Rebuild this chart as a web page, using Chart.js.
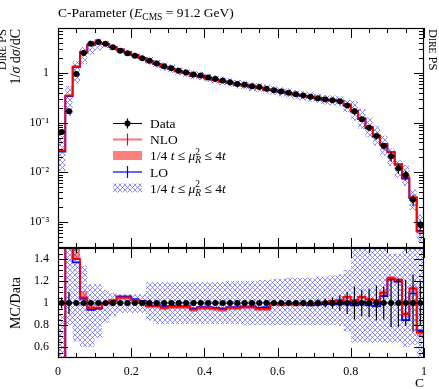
<!DOCTYPE html>
<html>
<head>
<meta charset="UTF-8">
<script src="https://cdn.jsdelivr.net/npm/chart.js"></script>
<title>C-Parameter</title>
<style>
  body { margin: 0; background: #fff; }
  #wrap { position: relative; width: 439px; height: 389px; background: #fff; }
  #wrap canvas { position: absolute; left: 0; top: 0; }
</style>
</head>
<body>
<div id="wrap">
  <canvas id="main" width="439" height="389"></canvas>
  <canvas id="ratio" width="439" height="389"></canvas>
</div>
<script>
// bins of C, width 0.02
const binEdges = [0, 0.02, 0.04, 0.06, 0.08, 0.1, 0.12, 0.14, 0.16, 0.18,
  0.2, 0.22, 0.24, 0.26, 0.28, 0.3, 0.32, 0.34, 0.36, 0.38,
  0.4, 0.42, 0.44, 0.46, 0.48, 0.5, 0.52, 0.54, 0.56, 0.58,
  0.6, 0.62, 0.64, 0.66, 0.68, 0.7, 0.72, 0.74, 0.76, 0.78,
  0.8, 0.82, 0.84, 0.86, 0.88, 0.9, 0.92, 0.94, 0.96, 0.98, 1];

// 1/sigma dsigma/dC, data
const dataVals = [0.065, 0.17, 0.95, 2.5, 3.85, 4.2, 3.85, 3.27, 2.8, 2.47,
  2.22, 1.97, 1.75, 1.54, 1.36, 1.24, 1.11, 1.02, 0.93, 0.885,
  0.81, 0.75, 0.70, 0.65, 0.60, 0.58, 0.54, 0.52, 0.48, 0.45,
  0.42, 0.40, 0.37, 0.35, 0.33, 0.31, 0.29, 0.28, 0.27, 0.22,
  0.17, 0.117, 0.079, 0.054, 0.034, 0.021, 0.012, 0.0088, 0.0028, 0.00088];

// relative data uncertainty
const dataErr = [0.05, 0.10, 0.02, 0.015, 0.015, 0.015, 0.015, 0.015, 0.015, 0.015,
  0.015, 0.015, 0.015, 0.015, 0.015, 0.015, 0.015, 0.015, 0.015, 0.015,
  0.015, 0.015, 0.015, 0.015, 0.015, 0.015, 0.015, 0.015, 0.015, 0.02,
  0.02, 0.02, 0.025, 0.03, 0.03, 0.035, 0.04, 0.05, 0.07, 0.10,
  0.15, 0.12, 0.13, 0.16, 0.15, 0.22, 0.22, 0.21, 0.26, 0.20];

// MC / Data
const nloRatio = [0.42, 2.06, 1.40, 1.05, 0.957, 0.957, 1.0, 1.025, 1.05, 1.05,
  1.028, 1.012, 0.972, 0.972, 0.957, 0.965, 0.965, 0.965, 0.94, 0.957,
  0.957, 0.95, 0.94, 0.957, 0.957, 0.963, 0.963, 0.947, 0.947, 0.994,
  0.988, 0.994, 0.988, 0.994, 0.994, 1.0, 1.006, 1.019, 1.025, 1.056,
  1.025, 1.056, 1.034, 1.025, 1.093, 1.226, 1.21, 0.90, 1.133, 0.73];

const loRatio = [0.40, 2.0, 1.369, 1.04, 0.938, 0.95, 1.0, 1.02, 1.059, 1.059,
  1.034, 1.019, 0.978, 0.978, 0.972, 0.972, 0.972, 0.972, 0.95, 0.963,
  0.963, 0.957, 0.95, 0.963, 0.963, 0.969, 0.969, 0.957, 0.963, 0.994,
  0.988, 0.994, 0.988, 0.988, 0.978, 0.985, 0.99, 0.994, 0.988, 1.009,
  0.978, 1.009, 0.978, 0.969, 1.062, 1.215, 1.195, 0.845, 1.087, 0.75];

// NLO scale band, offsets below / above the NLO ratio
const nloDn = [0.02, 0.05, 0.01, 0.02, 0.02, 0.02, 0.02, 0.02, 0.02, 0.02,
  0.02, 0.02, 0.02, 0.02, 0.02, 0.02, 0.02, 0.02, 0.02, 0.02,
  0.02, 0.02, 0.02, 0.02, 0.02, 0.02, 0.02, 0.02, 0.02, 0.02,
  0.02, 0.02, 0.02, 0.02, 0.02, 0.02, 0.02, 0.02, 0.02, 0.02,
  0.02, 0.02, 0.02, 0.02, 0.03, 0.03, 0.03, 0.03, 0.03, 0.03];
const nloUp = [0.02, 0.10, 0.12, 0.06, 0.02, 0.01, 0.01, 0.01, 0.01, 0.01,
  0.01, 0.01, 0.01, 0.01, 0.01, 0.01, 0.01, 0.01, 0.01, 0.01,
  0.01, 0.01, 0.01, 0.01, 0.01, 0.01, 0.01, 0.01, 0.01, 0.01,
  0.01, 0.01, 0.01, 0.01, 0.01, 0.01, 0.01, 0.01, 0.01, 0.01,
  0.01, 0.01, 0.01, 0.01, 0.02, 0.02, 0.02, 0.02, 0.02, 0.02];

// LO scale band, as ratio to data
const loBandDn = [0.16, 0.80, 0.65, 0.60, 0.60, 0.68, 0.82, 0.88, 0.91, 0.91,
  0.91, 0.91, 0.84, 0.81, 0.81, 0.81, 0.81, 0.81, 0.81, 0.81,
  0.81, 0.81, 0.81, 0.81, 0.81, 0.80, 0.80, 0.80, 0.80, 0.80,
  0.80, 0.80, 0.80, 0.80, 0.80, 0.80, 0.80, 0.80, 0.79, 0.74,
  0.64, 0.64, 0.64, 0.64, 0.64, 0.64, 0.64, 0.60, 0.62, 0.45];
const loBandUp = [0.90, 3.20, 1.80, 1.34, 1.17, 1.17, 1.12, 1.09, 1.08, 1.08,
  1.08, 1.08, 1.19, 1.19, 1.19, 1.19, 1.19, 1.19, 1.19, 1.19,
  1.19, 1.19, 1.19, 1.20, 1.20, 1.20, 1.20, 1.21, 1.21, 1.22,
  1.22, 1.23, 1.23, 1.23, 1.23, 1.24, 1.24, 1.25, 1.26, 1.30,
  1.60, 1.60, 1.60, 1.60, 1.60, 1.45, 1.45, 1.60, 1.60, 1.60];

const xTicks = [0, 0.2, 0.4, 0.6, 0.8, 1];
const xTickLabels = ['0', '0.2', '0.4', '0.6', '0.8', '1'];
const xMinorTicks = [0.05, 0.1, 0.15, 0.25, 0.3, 0.35, 0.45, 0.5, 0.55, 0.65, 0.7, 0.75, 0.85, 0.9, 0.95];
const logTicks = [1e-3, 1e-2, 1e-1, 1];
const logTickLabels = ['10\u207B\u00B3', '10\u207B\u00B2', '10\u207B\u00B9', '1'];
const ratioTicks = [0.6, 0.8, 1, 1.2, 1.4];
const ratioTickLabels = ['0.6', '0.8', '1', '1.2', '1.4'];
const ratioMinorTicks = [0.55, 0.65, 0.7, 0.75, 0.85, 0.9, 0.95, 1.05, 1.1, 1.15, 1.25, 1.3, 1.35, 1.45];

const logMinorTicks = [];
for (let e = -4; e <= 0; e++) {
  for (let k = 2; k <= 9; k++) logMinorTicks.push(k * Math.pow(10, e));
}

const FAMILY = '"Liberation Serif", "DejaVu Serif", serif';
function font(size, style) { return (style ? style + ' ' : '') + size + 'px ' + FAMILY; }

const centres = dataVals.map((v, i) => (binEdges[i] + binEdges[i + 1]) / 2);

function hatch(ctx) {
  const c = document.createElement('canvas');
  c.width = 5; c.height = 5;
  const g = c.getContext('2d');
  g.strokeStyle = 'rgba(100,100,255,0.72)';
  g.lineWidth = 1;
  g.beginPath();
  g.moveTo(0, 0); g.lineTo(5, 5);
  g.moveTo(5, 0); g.lineTo(0, 5);
  g.stroke();
  return ctx.createPattern(c, 'repeat');
}

function steps(vals) {
  const pts = vals.map((v, i) => ({ x: binEdges[i], y: v }));
  pts.push({ x: binEdges[binEdges.length - 1], y: vals[vals.length - 1] });
  return pts;
}

function histDatasets(conv, pattern) {
  const flat = { pointRadius: 0, stepped: true, fill: false };
  return [
    { label: 'Data', data: centres.map((x, i) => ({ x: x, y: conv(i, 1) })),
      showLine: false, pointRadius: 3, pointBackgroundColor: '#000', pointBorderWidth: 0 },
    Object.assign({ label: 'NLO', data: steps(nloRatio.map((r, i) => conv(i, r))),
      borderColor: '#ff0000', borderWidth: 1.8 }, flat),
    Object.assign({ label: 'LO', data: steps(loRatio.map((r, i) => conv(i, r))),
      borderColor: '#0000ff', borderWidth: 1.8 }, flat),
    Object.assign({ label: 'nloDn', data: steps(nloRatio.map((r, i) => conv(i, r - nloDn[i]))),
      borderWidth: 0, borderColor: 'transparent' }, flat),
    Object.assign({}, flat, { label: 'nloUp', data: steps(nloRatio.map((r, i) => conv(i, r + nloUp[i]))),
      borderWidth: 0, borderColor: 'transparent', fill: '-1', backgroundColor: 'rgba(255,0,0,0.45)' }),
    Object.assign({ label: 'loDn', data: steps(loBandDn.map((r, i) => conv(i, r))),
      borderWidth: 0, borderColor: 'transparent' }, flat),
    Object.assign({}, flat, { label: 'loUp', data: steps(loBandUp.map((r, i) => conv(i, r))),
      borderWidth: 0, borderColor: 'transparent', fill: '-1', backgroundColor: pattern })
  ];
}

function errorBars(conv) {
  return {
    id: 'errorBars',
    afterDatasetsDraw(chart) {
      const { ctx, chartArea: a, scales } = chart;
      const x = scales.x, y = scales.y;
      ctx.save();
      ctx.beginPath();
      ctx.rect(a.left, a.top, a.right - a.left, a.bottom - a.top);
      ctx.clip();
      ctx.strokeStyle = '#000';
      ctx.lineWidth = 1.2;
      ctx.beginPath();
      dataVals.forEach((v, i) => {
        const yc = y.getPixelForValue(conv(i, 1));
        ctx.moveTo(x.getPixelForValue(binEdges[i]), yc);
        ctx.lineTo(x.getPixelForValue(binEdges[i + 1]), yc);
        const xc = x.getPixelForValue(centres[i]);
        ctx.moveTo(xc, y.getPixelForValue(conv(i, 1 - dataErr[i])));
        ctx.lineTo(xc, y.getPixelForValue(conv(i, 1 + dataErr[i])));
      });
      ctx.stroke();
      ctx.restore();
    }
  };
}

function frameTicks(yMajor, yMinor) {
  return {
    id: 'frameTicks',
    afterDraw(chart) {
      const { ctx, chartArea: a, scales } = chart;
      const x = scales.x, y = scales.y;
      ctx.save();
      ctx.strokeStyle = '#000';
      ctx.lineWidth = 1;
      ctx.beginPath();
      const xt = (v, len) => {
        const p = Math.round(x.getPixelForValue(v)) + 0.5;
        ctx.moveTo(p, a.top); ctx.lineTo(p, a.top + len);
        ctx.moveTo(p, a.bottom); ctx.lineTo(p, a.bottom - len);
      };
      const yt = (v, len) => {
        const p = Math.round(y.getPixelForValue(v)) + 0.5;
        if (p < a.top || p > a.bottom) return;
        ctx.moveTo(a.left, p); ctx.lineTo(a.left + len, p);
        ctx.moveTo(a.right, p); ctx.lineTo(a.right - len, p);
      };
      xMinorTicks.forEach(v => xt(v, 5));
      xTicks.forEach(v => xt(v, 10));
      yMinor.forEach(v => yt(v, 5));
      yMajor.forEach(v => yt(v, 10));
      ctx.stroke();
      ctx.lineWidth = 1.2;
      ctx.strokeRect(a.left + 0.5, a.top + 0.5, a.right - a.left - 1, a.bottom - a.top - 1);
      ctx.restore();
    }
  };
}

// draws a run of text pieces: {t, f, dy, stay}
function rich(ctx, x, y, segs, align) {
  let w = 0;
  segs.forEach(s => { if (!s.stay) { ctx.font = s.f; w += ctx.measureText(s.t).width; } });
  let cx = align === 'right' ? x - w : (align === 'center' ? x - w / 2 : x);
  segs.forEach(s => {
    ctx.font = s.f;
    ctx.fillText(s.t, cx, y + (s.dy || 0));
    if (!s.stay) cx += ctx.measureText(s.t).width;
  });
}

const N = font(13.5), I = font(13.5, 'italic');
const scaleLabel = [
  { t: '1/4 ', f: N }, { t: 't', f: I }, { t: ' \u2264 ', f: N }, { t: '\u03BC', f: I },
  { t: '2', f: font(9.5), dy: -5.5, stay: true }, { t: 'R', f: font(9.5, 'italic'), dy: 3 },
  { t: ' \u2264 4', f: N }, { t: 't', f: I }
];
const direPS = [{ t: 'D', f: font(12.5) }, { t: 'IRE', f: font(9.5) }, { t: ' PS', f: font(12.5) }];

const mainText = {
  id: 'mainText',
  afterDraw(chart) {
    const ctx = chart.ctx;
    ctx.save();
    ctx.fillStyle = '#000';
    ctx.textBaseline = 'alphabetic';
    rich(ctx, 58, 17, [
      { t: 'C-Parameter (', f: N }, { t: 'E', f: I }, { t: 'CMS', f: font(9.5), dy: 3 },
      { t: ' = 91.2 GeV)', f: N }
    ]);
    // y title
    ctx.save();
    ctx.translate(20, 29);
    ctx.rotate(-Math.PI / 2);
    rich(ctx, 0, 0, [
      { t: '1/', f: font(14) }, { t: '\u03C3', f: font(14, 'italic') }, { t: ' d', f: font(14) },
      { t: '\u03C3', f: font(14, 'italic') }, { t: '/dC', f: font(14) }
    ], 'right');
    ctx.restore();
    ctx.save();
    ctx.translate(6, 29);
    ctx.rotate(-Math.PI / 2);
    rich(ctx, 0, 0, direPS, 'right');
    ctx.restore();
    ctx.save();
    ctx.translate(429, 29);
    ctx.rotate(Math.PI / 2);
    rich(ctx, 0, 0, direPS);
    ctx.restore();

    // legend
    const x0 = 113, x1 = 142, xm = 127.5, tx = 150;
    const rows = [123.5, 139.5, 155.5, 172, 188];
    ctx.lineWidth = 1.2;
    ctx.strokeStyle = '#000';
    ctx.beginPath();
    ctx.moveTo(x0, rows[0]); ctx.lineTo(x1, rows[0]);
    ctx.moveTo(xm, rows[0] - 5); ctx.lineTo(xm, rows[0] + 5);
    ctx.stroke();
    ctx.beginPath(); ctx.arc(xm, rows[0], 3, 0, Math.PI * 2); ctx.fill();

    ctx.lineWidth = 2;
    ctx.strokeStyle = 'rgba(255,0,0,0.55)';
    ctx.beginPath(); ctx.moveTo(x0, rows[1]); ctx.lineTo(x1, rows[1]); ctx.stroke();
    ctx.lineWidth = 1.2;
    ctx.strokeStyle = '#ff0000';
    ctx.beginPath(); ctx.moveTo(xm, rows[1] - 6); ctx.lineTo(xm, rows[1] + 6); ctx.stroke();

    ctx.fillStyle = 'rgba(255,0,0,0.5)';
    ctx.fillRect(x0, rows[2] - 4.5, x1 - x0, 9);

    ctx.lineWidth = 2;
    ctx.strokeStyle = 'rgba(0,0,255,0.6)';
    ctx.beginPath(); ctx.moveTo(x0, rows[3]); ctx.lineTo(x1, rows[3]); ctx.stroke();
    ctx.lineWidth = 1.2;
    ctx.strokeStyle = '#0000ff';
    ctx.beginPath(); ctx.moveTo(xm, rows[3] - 6); ctx.lineTo(xm, rows[3] + 6); ctx.stroke();

    ctx.fillStyle = hatch(ctx);
    ctx.fillRect(x0, rows[4] - 4.5, x1 - x0, 9);

    ctx.fillStyle = '#000';
    rich(ctx, tx, rows[0] + 4.5, [{ t: 'Data', f: N }]);
    rich(ctx, tx, rows[1] + 4.5, [{ t: 'NLO', f: N }]);
    rich(ctx, tx, rows[2] + 4.5, scaleLabel);
    rich(ctx, tx, rows[3] + 4.5, [{ t: 'LO', f: N }]);
    rich(ctx, tx, rows[4] + 4.5, scaleLabel);
    ctx.restore();
  }
};

const ratioText = {
  id: 'ratioText',
  afterDraw(chart) {
    const ctx = chart.ctx;
    ctx.save();
    ctx.fillStyle = '#000';
    ctx.save();
    ctx.translate(20, 303);
    ctx.rotate(-Math.PI / 2);
    rich(ctx, 0, 0, [{ t: 'MC/Data', f: font(14) }], 'center');
    ctx.restore();
    rich(ctx, 424, 387, [{ t: 'C', f: N }], 'right');
    ctx.restore();
  }
};

const tickFont = { family: 'Liberation Serif', size: 12 };
const common = {
  responsive: false,
  animation: false,
  events: [],
  plugins: { legend: { display: false }, tooltip: { enabled: false } }
};

const mainCtx = document.getElementById('main').getContext('2d');
const toMain = (i, r) => dataVals[i] * r;
new Chart(mainCtx, {
  type: 'line',
  data: { datasets: histDatasets(toMain, hatch(mainCtx)) },
  options: Object.assign({}, common, {
    layout: { padding: { left: 0, top: 28, right: 15, bottom: 141 } },
    scales: {
      x: { type: 'linear', min: 0, max: 1, display: false },
      y: {
        type: 'logarithmic', min: 3e-4, max: 8,
        grid: { display: false, drawTicks: false }, border: { display: false },
        afterBuildTicks: s => { s.ticks = logTicks.map(v => ({ value: v })); },
        afterFit: s => { s.width = 58; s.paddingTop = 0; s.paddingBottom = 0; },
        ticks: { callback: (v, i) => logTickLabels[i], font: tickFont, color: '#000', padding: 9, autoSkip: false }
      }
    }
  }),
  plugins: [errorBars(toMain), frameTicks(logTicks, logMinorTicks), mainText]
});

const ratioCtx = document.getElementById('ratio').getContext('2d');
const toRatio = (i, r) => r;
new Chart(ratioCtx, {
  type: 'line',
  data: { datasets: histDatasets(toRatio, hatch(ratioCtx)) },
  options: Object.assign({}, common, {
    layout: { padding: { left: 0, top: 248, right: 15, bottom: 0 } },
    scales: {
      x: {
        type: 'linear', min: 0, max: 1,
        grid: { display: false, drawTicks: false }, border: { display: false },
        afterBuildTicks: s => { s.ticks = xTicks.map(v => ({ value: v })); },
        afterFit: s => { s.height = 31; s.paddingLeft = 0; s.paddingRight = 0; },
        ticks: { callback: (v, i) => xTickLabels[i], font: tickFont, color: '#000', padding: 7, autoSkip: false, maxRotation: 0 }
      },
      y: {
        type: 'linear', min: 0.5, max: 1.5,
        grid: { display: false, drawTicks: false }, border: { display: false },
        afterBuildTicks: s => { s.ticks = ratioTicks.map(v => ({ value: v })); },
        afterFit: s => { s.width = 58; s.paddingTop = 0; s.paddingBottom = 0; },
        ticks: { callback: (v, i) => ratioTickLabels[i], font: tickFont, color: '#000', padding: 9, autoSkip: false }
      }
    }
  }),
  plugins: [errorBars(toRatio), frameTicks(ratioTicks, ratioMinorTicks), ratioText]
});
</script>
</body>
</html>
